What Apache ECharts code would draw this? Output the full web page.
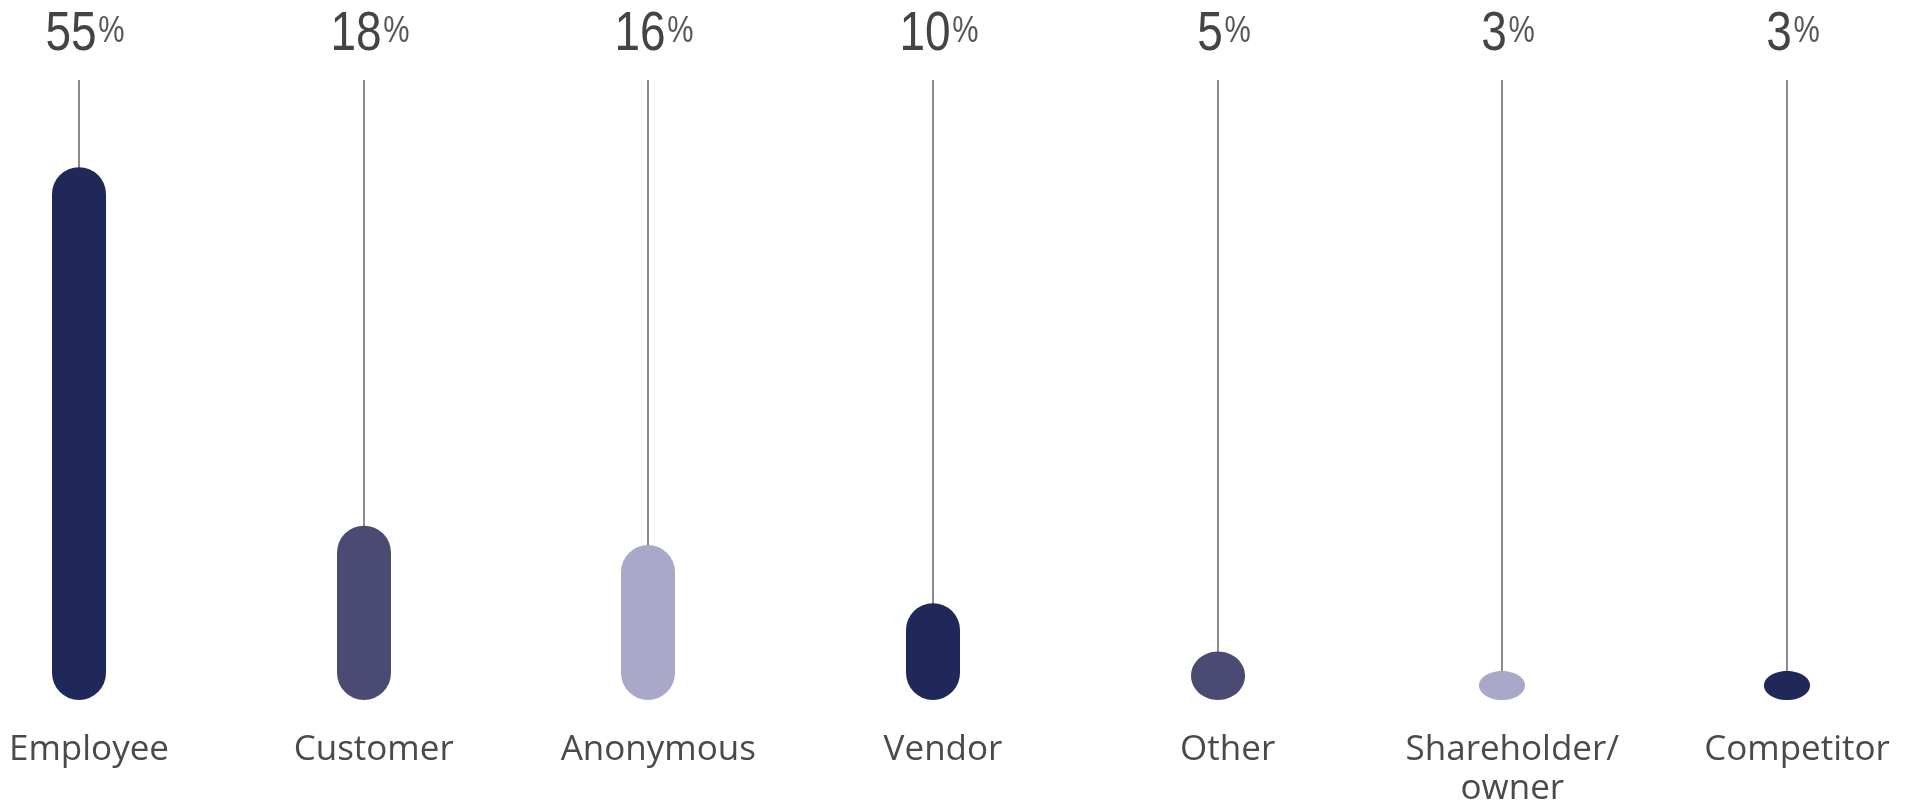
<!DOCTYPE html>
<html>
<head>
<meta charset="utf-8">
<script src="https://cdn.jsdelivr.net/npm/echarts@6/dist/echarts.min.js"></script>
<style>
  html, body { margin: 0; padding: 0; background: #ffffff; }
  #chart { width: 1914px; height: 801px; }
</style>
</head>
<body>
<div id="chart"></div>
<script>
// Who reports: share of tips by source
const categories = ['Employee', 'Customer', 'Anonymous', 'Vendor', 'Other', 'Shareholder/\nowner', 'Competitor'];
const shares = [55, 18, 16, 10, 5, 3, 3];

// Pill colours, cycling navy / slate / lavender
const fills = ['#1f2859', '#4a4a72', '#a9a8c8', '#1f2859', '#4a4a72', '#a9a8c8', '#1f2859'];

const Y_MAX = 64;
const PILL_W = 54;
const DOT_W = 46;
const NUM_FONT = '"Liberation Sans", Arial, sans-serif';

const chart = echarts.init(document.getElementById('chart'), null, { renderer: 'canvas' });

// Each source: a hairline dropping from the top, ending in a rounded pill
// whose height is the share; tiny shares collapse into a flat dot.
function renderPill(params, api) {
  const idx = api.value(0);
  const v = api.value(1);
  const base = api.coord([idx, 0]);
  const top = api.coord([idx, v]);
  const head = api.coord([idx, Y_MAX]);
  const h = base[1] - top[1];
  const w = Math.min(PILL_W, DOT_W + Math.max(0, h - 29) * 0.42);
  const cx = Math.round(base[0]);
  const color = fills[params.dataIndex];

  const mark = h >= w
    ? {
        type: 'rect',
        shape: { x: cx - w / 2, y: base[1] - h, width: w, height: h, r: w / 2 },
        style: { fill: color }
      }
    : {
        type: 'ellipse',
        shape: { cx: cx, cy: base[1] - h / 2, rx: w / 2, ry: h / 2 },
        style: { fill: color }
      };

  return {
    type: 'group',
    children: [
      {
        type: 'line',
        shape: { x1: cx, y1: head[1], x2: cx, y2: base[1] - h + 4 },
        style: { stroke: '#8c8c8c', lineWidth: 2 }
      },
      mark,
      {
        type: 'text',
        x: cx + 6,
        y: head[1] - 45,
        scaleX: 0.82,
        style: {
          text: '{n|' + v + '}{p|%}',
          x: 0,
          y: 0,
          align: 'center',
          verticalAlign: 'middle',
          rich: {
            n: { fontFamily: NUM_FONT, fontSize: 56, lineHeight: 56, fill: '#444444', verticalAlign: 'middle' },
            p: { fontFamily: NUM_FONT, fontSize: 36, lineHeight: 56, fill: '#555555', verticalAlign: 'middle', padding: [0, 0, 6, 2] }
          }
        }
      }
    ]
  };
}

chart.setOption({
  animation: false,
  backgroundColor: '#ffffff',
  grid: { left: 79, right: 127, top: 80, bottom: 101, containLabel: false, outerBoundsMode: 'none' },
  xAxis: {
    type: 'category',
    data: categories,
    boundaryGap: false,
    axisLine: { show: false },
    axisTick: { show: false },
    splitLine: { show: false },
    axisLabel: {
      interval: 0,
      fontFamily: '"Open Sans", sans-serif',
      fontSize: 35,
      lineHeight: 39,
      color: '#4a4a4a',
      margin: 31,
      padding: [0, 0, 0, 20]
    }
  },
  yAxis: {
    type: 'value',
    min: 0,
    max: Y_MAX,
    show: false
  },
  series: [
    {
      type: 'custom',
      clip: false,
      renderItem: renderPill,
      encode: { x: 0, y: 1 },
      data: shares.map((v, i) => [i, v])
    }
  ]
});
</script>
</body>
</html>
